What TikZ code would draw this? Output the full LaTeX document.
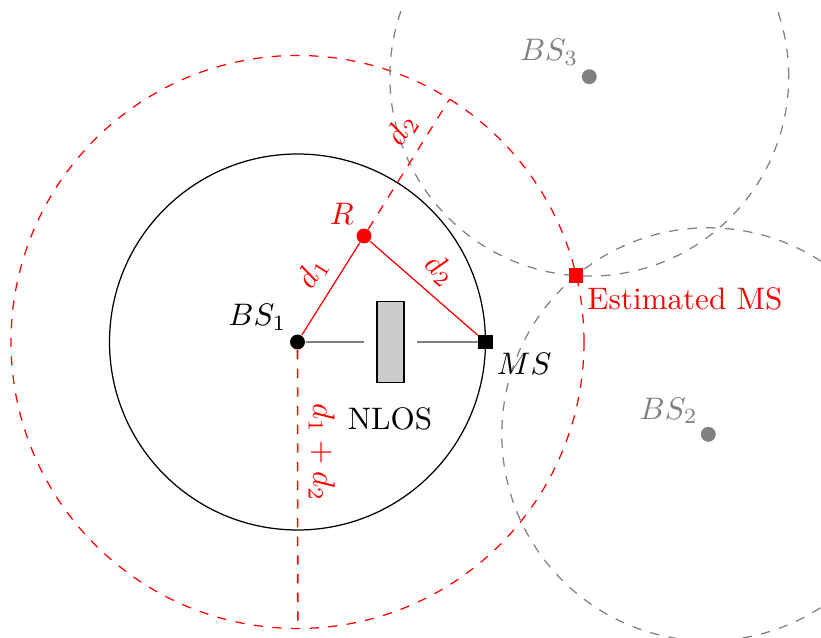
\documentclass[tikz,border=0pt]{standalone}
\usetikzlibrary{calc}
\begin{document}
\begin{tikzpicture}[x=0.3215pt,y=-0.3215pt,
  dot/.style={circle,fill,inner sep=0pt,minimum size=4.8pt},
  sq/.style={rectangle,fill,inner sep=0pt,minimum size=4.66pt},
  rangec/.style={dashed},
  edgelbl/.style={above,sloped}]
\useasboundingbox (0,0) rectangle (821,638);
\clip (0,9) rectangle (821,638);
% centres
\coordinate (cBS1) at (297.5,342);
\coordinate (cMS) at (485.5,342);
\coordinate (cR) at (364,236);
\coordinate (cEMS) at (576,275.7);
\coordinate (cBS3) at (589.3,76.7);
\coordinate (cBS2) at (708.3,434.3);
\coordinate (Rext) at (449.5,99.2);
\coordinate (Bot) at (297.8,628.5);
% circles
\draw (cBS1) circle[radius=60.44pt];
\draw[rangec,red] (cBS1) circle[radius=92.11pt];
\draw[rangec,gray] (cBS3) circle[radius=64.11pt];
\draw[rangec,gray] (cBS2) circle[radius=66.39pt];
% obstacle
\node[draw,fill=gray!40,minimum width=8.7pt,minimum height=25.9pt,inner sep=0pt,outer sep=4.3pt] (box) at (390.5,342) {};
% nodes
\node[dot] (BS1) at (cBS1) {};
\node[sq] (MS) at (cMS) {};
\node[dot,red] (R) at (cR) {};
\node[sq,red] (EMS) at (cEMS) {};
\node[dot,gray] (BS3) at (cBS3) {};
\node[dot,gray] (BS2) at (cBS2) {};
% connectors
\draw[gray,semithick] (BS1) -- (box);
\draw[gray,semithick] (box) -- (MS);
\draw[red] (BS1) -- node[edgelbl,pos=0.537] (ld1) {$d_1$} (R);
\draw[red] (R) -- node[edgelbl,pos=0.5] (ld2) {$d_2$} (MS);
\draw[red,dashed] (R) -- node[edgelbl,pos=0.665] (ld2b) {$d_2$} (Rext);
\draw[red,dashed,line width=0.5pt] (BS1) -- (Bot);
\path (BS1) -- node[edgelbl,pos=0.368,text=red] (ld12) {$d_1+d_2$} (Bot);
% labels
\node (lBS1) at (257.5,317.5) {$BS_1$};
\node[red] (lR) at (341.7,214.2) {$R$};
\node (lNLOS) at (390,419.2) {NLOS};
\node (lMS) at (524.2,364.2) {$MS$};
\node[gray] (lBS2) at (668.8,410.8) {$BS_2$};
\node[gray] (lBS3) at (549.2,52.5) {$BS_3$};
\node[red] (lEMS) at (685,299.2) {Estimated MS};
\end{tikzpicture}
\end{document}
